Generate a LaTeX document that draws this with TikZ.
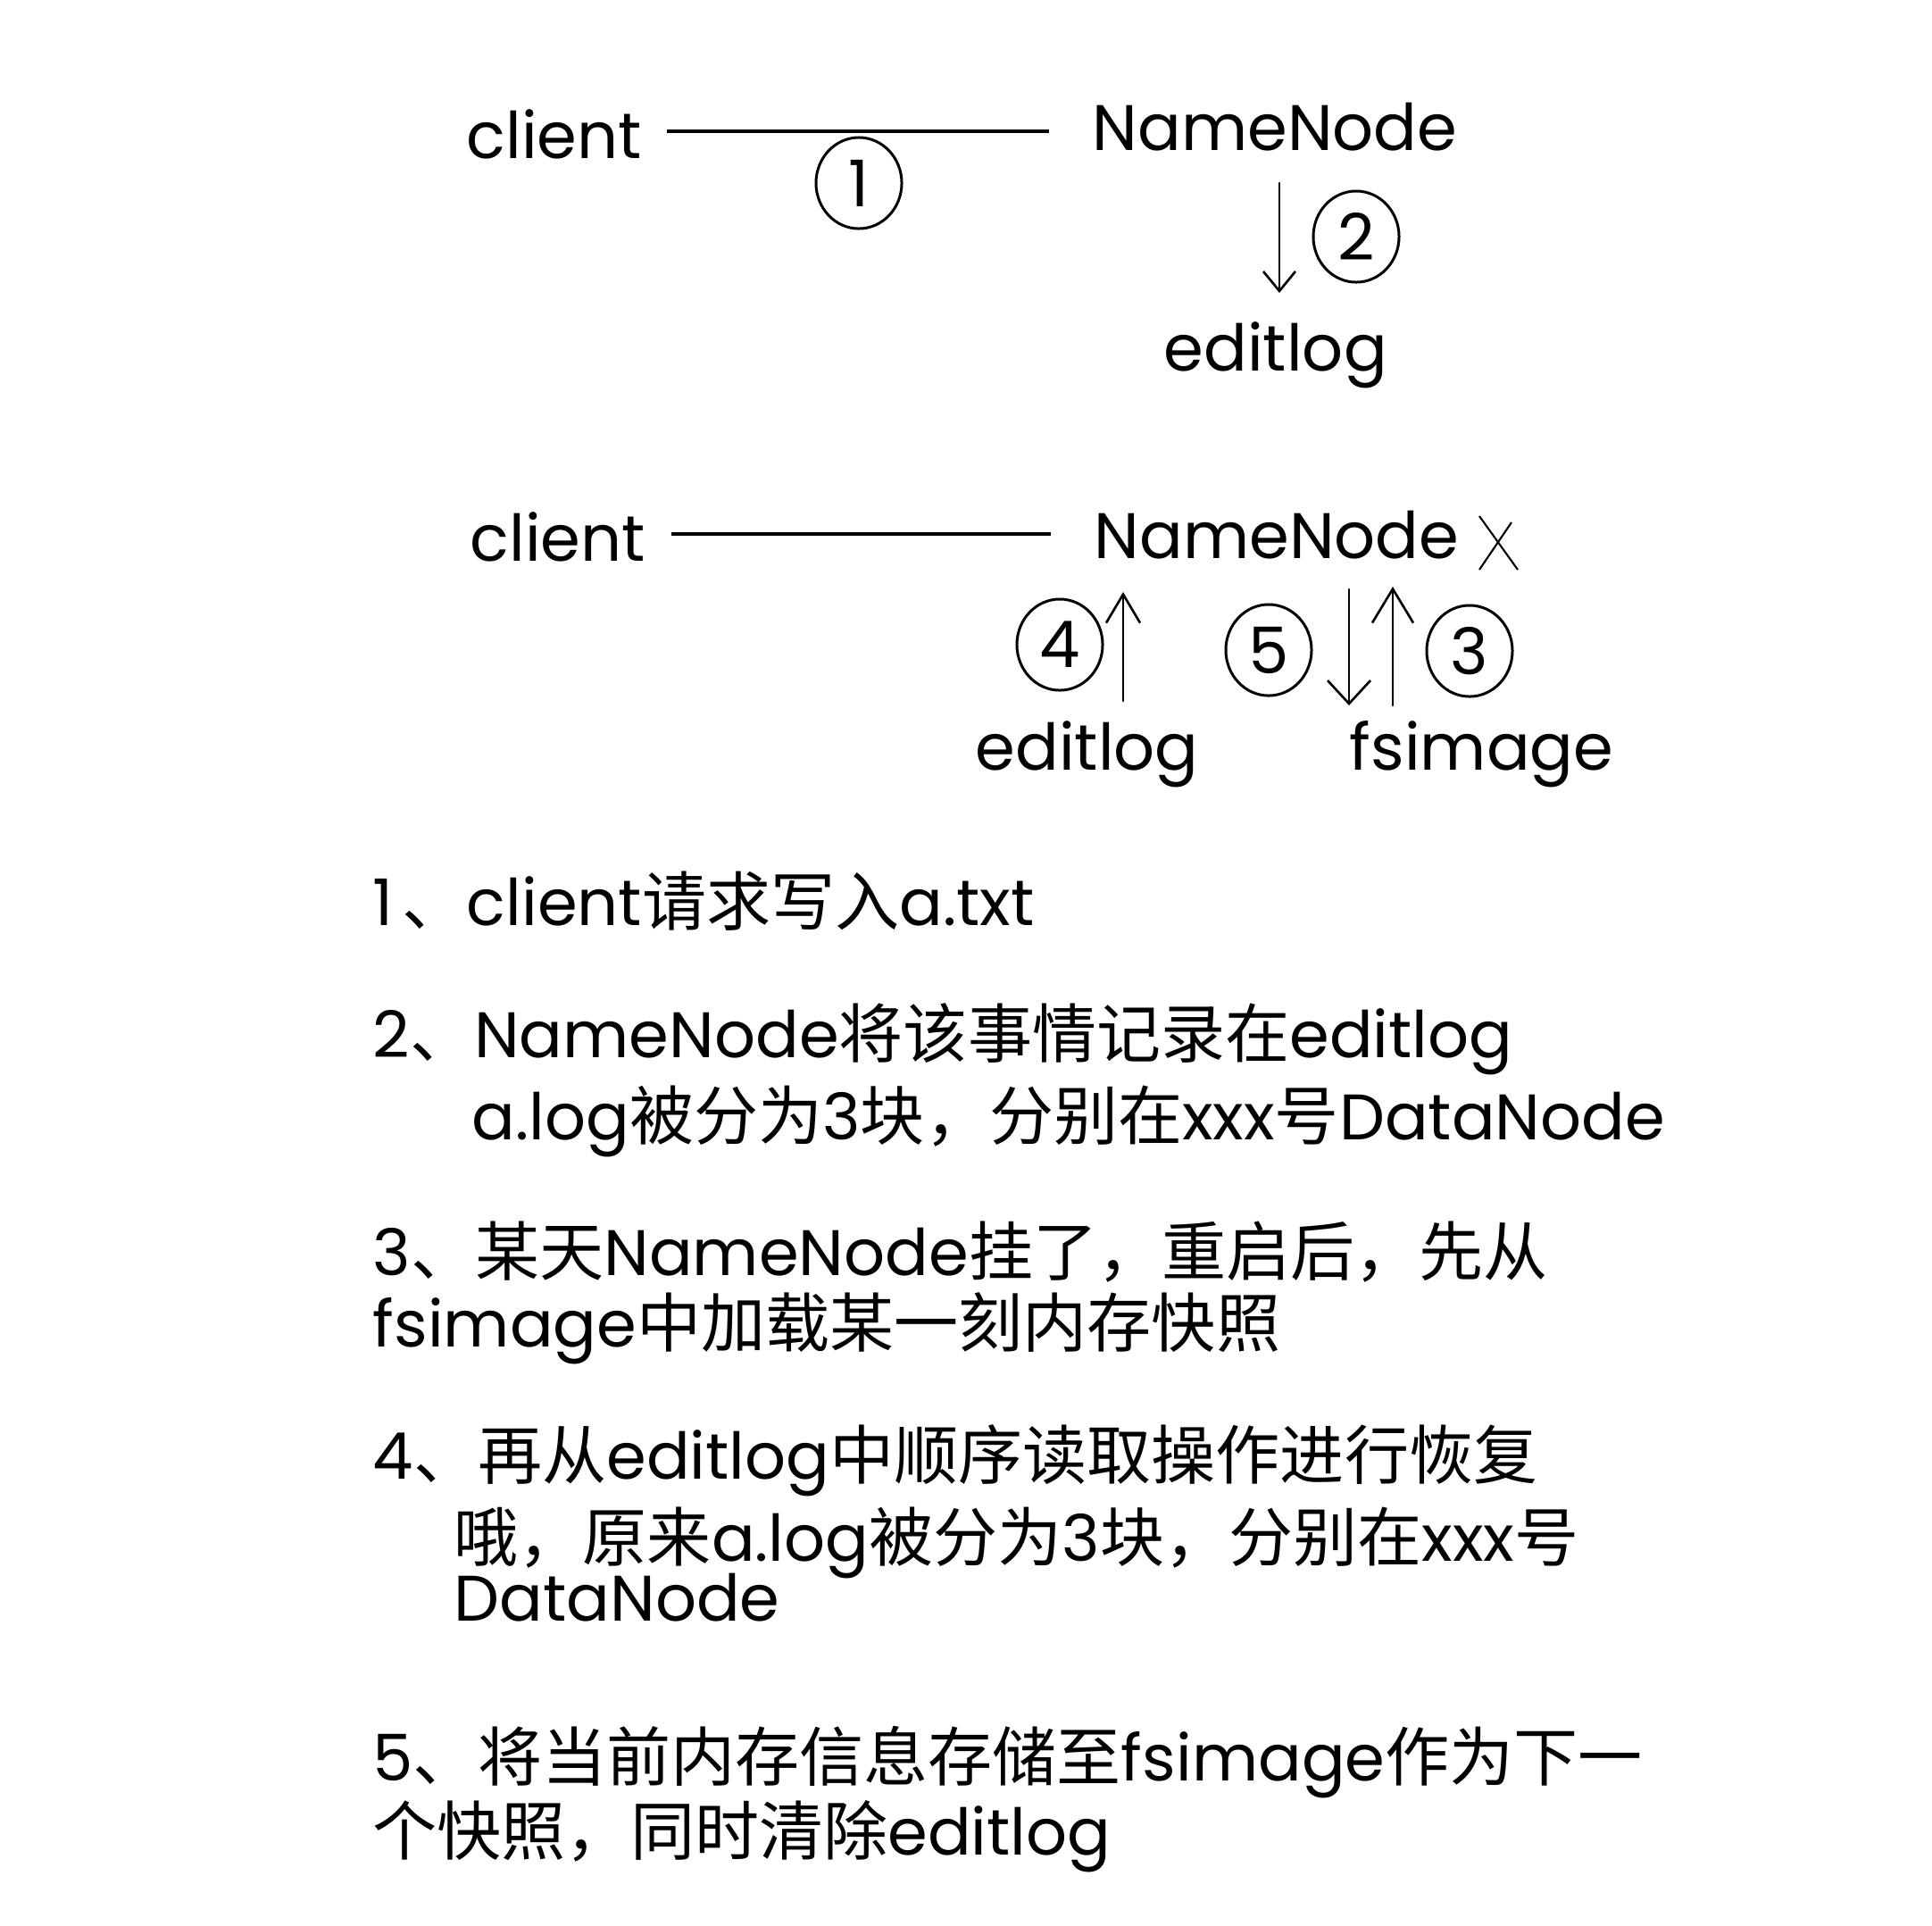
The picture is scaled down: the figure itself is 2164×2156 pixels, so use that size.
\documentclass[tikz,border=0pt]{standalone}
\usepackage{fontspec}
\setmainfont{Poppins}
\newfontfamily\cjk{Noto Sans CJK SC}
\newcommand\zh[1]{{\cjk #1}}
\usetikzlibrary{arrows.meta,shapes.geometric}
\begin{document}
\begin{tikzpicture}[x=0.01cm,y=-0.01cm,
  lbl/.style={inner sep=0pt,anchor=base west,font=\fontsize{20.5}{24}\selectfont},
  txt/.style={inner sep=0pt,anchor=base west,font=\fontsize{20.5}{24}\selectfont},
  circnum/.style={draw,ellipse,inner sep=0pt,minimum width=0.96cm,minimum height=1.02cm,line width=0.85pt,font=\fontsize{20.5}{24}\selectfont},
  rowline/.style={line width=1.2pt},
  arrline/.style={line width=0.75pt,line cap=round}]
\fill[white] (0,0) rectangle (2164,2156);
\useasboundingbox (0,0) rectangle (2164,2156);
% row 1
\node[lbl] (cl1) at (522,177) {client};
\node[lbl] (nn1) at (1223,168) {NameNode};
\node[lbl] (el1) at (1303,415) {editlog};
\node[circnum] (c1) at (962,205) {1};
\node[circnum] (c2) at (1519,265) {2};
\coordinate (l1a) at (747,147);
\coordinate (l1b) at (1175,147);
\draw[rowline] (l1a) -- (l1b);
\coordinate (a2s) at (1433,205);
\coordinate (a2e) at (1433,328);
\draw[arrline,-{Straight Barb[length=0.22cm,width=0.36cm]}] (a2s) -- (a2e);
% row 2
\node[lbl] (cl2) at (526,628) {client};
\node[lbl] (nn2) at (1225,625) {NameNode};
\node[lbl] (el2) at (1092,862) {editlog};
\node[lbl] (fs2) at (1511,862) {fsimage};
\coordinate (l2a) at (752,598);
\coordinate (l2b) at (1177,598);
\draw[rowline] (l2a) -- (l2b);
\node[circnum] (c4) at (1187,722) {4};
\node[circnum] (c5) at (1421,728) {5};
\node[circnum] (c3) at (1646,729) {3};
\coordinate (a4s) at (1258,785);
\coordinate (a4e) at (1258,663);
\draw[arrline,-{Straight Barb[length=0.32cm,width=0.38cm]}] (a4s) -- (a4e);
\coordinate (a5s) at (1511,660);
\coordinate (a5e) at (1511,790);
\draw[arrline,-{Straight Barb[length=0.26cm,width=0.48cm]}] (a5s) -- (a5e);
\coordinate (a3s) at (1560,790);
\coordinate (a3e) at (1560,657);
\draw[arrline,-{Straight Barb[length=0.38cm,width=0.46cm]}] (a3s) -- (a3e);
% cross mark
\coordinate (x1) at (1657,578);
\coordinate (x2) at (1700,638);
\coordinate (x3) at (1693,585);
\coordinate (x4) at (1657,638);
\draw[line width=0.6pt] (x1) -- (x2) (x3) -- (x4);
% explanation text
\node[txt] (t1) at (417,1036) {1\kern0.1cm\zh{、}client\zh{请求写入}a.txt};
\node[txt] (t2a) at (417,1184) {2\zh{、}NameNode\zh{将该事情记录在}editlog};
\node[txt] (t2b) at (528,1276) {a.log\zh{被分为}3\zh{块，分别在}xxx\zh{号}DataNode};
\node[txt] (t3a) at (417,1428) {3\zh{、某天}NameNode\zh{挂了，重启后，先从}};
\node[txt] (t3b) at (417,1508) {fsimage\zh{中加载某一刻内存快照}};
\node[txt] (t4a) at (417,1656) {4\zh{、再从}editlog\zh{中顺序读取操作进行恢复}};
\node[txt] (t4b) at (508,1748) {\zh{哦，原来}a.log\zh{被分为}3\zh{块，分别在}xxx\zh{号}};
\node[txt] (t4c) at (508,1815) {DataNode};
\node[txt] (t5a) at (417,1994) {5\zh{、将当前内存信息存储至}fsimage\zh{作为下一}};
\node[txt] (t5b) at (417,2077) {\zh{个快照，同时清除}editlog};
\end{tikzpicture}
\end{document}
